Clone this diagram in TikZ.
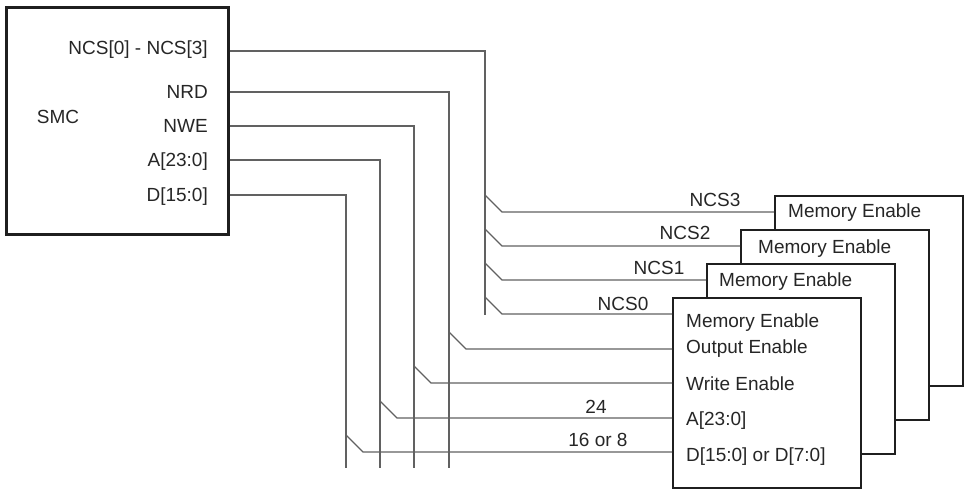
\documentclass[tikz,border=0pt]{standalone}
\usepackage{fontspec}
\setmainfont{Liberation Sans}
\begin{document}
\begin{tikzpicture}[x=1pt,y=-1pt,
  sig/.style={draw=black!62, line width=1.3pt},
  membox/.style={draw=black!88, line width=2.4pt, fill=white, minimum width=188pt, minimum height=190pt, anchor=north west, inner sep=0pt},
  lbl/.style={font=\fontsize{19}{22}\selectfont, text=black!85, inner sep=0pt},
]
\useasboundingbox (0,0) rectangle (970,492);

% SMC block
\node[draw=black!88, line width=2.6pt, minimum width=222pt, minimum height=227pt, anchor=north west, inner sep=0pt] (smc) at (5,6) {};
\node[lbl, anchor=base] (smclbl) at (58,124) {SMC};
\node[lbl, anchor=base east] (pncs) at (208,55) {NCS[0] - NCS[3]};
\node[lbl, anchor=base east] (pnrd) at (208,99) {NRD};
\node[lbl, anchor=base east] (pnwe) at (208,133) {NWE};
\node[lbl, anchor=base east] (pa) at (208,167) {A[23:0]};
\node[lbl, anchor=base east] (pd) at (208,202) {D[15:0]};

% memory blocks (back to front)
\node[membox] (mem4) at (774,195) {};
\node[membox] (mem3) at (740,229) {};
\node[membox] (mem2) at (706,263) {};
\node[membox] (mem1) at (672,297) {};

\node[lbl, anchor=base west] (m4me) at (788,218) {Memory Enable};
\node[lbl, anchor=base west] (m3me) at (758,253) {Memory Enable};
\node[lbl, anchor=base west] (m2me) at (719,286) {Memory Enable};
\node[lbl, anchor=base west] (m1me) at (686,327) {Memory Enable};
\node[lbl, anchor=base west] (m1oe) at (686,353) {Output Enable};
\node[lbl, anchor=base west] (m1we) at (686,390) {Write Enable};
\node[lbl, anchor=base west] (m1a) at (686,425) {A[23:0]};
\node[lbl, anchor=base west] (m1d) at (686,461) {D[15:0] or D[7:0]};

% bus corner coordinates
\coordinate (ncsTop) at (485,51);
\coordinate (ncsBot) at (485,315);
\coordinate (nrdTop) at (449,92);
\coordinate (nrdBot) at (449,468);
\coordinate (nweTop) at (414,126);
\coordinate (nweBot) at (414,468);
\coordinate (aTop) at (380,160);
\coordinate (aBot) at (380,468);
\coordinate (dTop) at (346,195);
\coordinate (dBot) at (346,468);

% trunks from SMC
\draw[sig] (smc.east |- ncsTop) -- (ncsTop) -- (ncsBot);
\draw[sig] (smc.east |- nrdTop) -- (nrdTop) -- (nrdBot);
\draw[sig] (smc.east |- nweTop) -- (nweTop) -- (nweBot);
\draw[sig] (smc.east |- aTop) -- (aTop) -- (aBot);
\draw[sig] (smc.east |- dTop) -- (dTop) -- (dBot);

% branches
\coordinate (b3) at (485,195);
\coordinate (b2) at (485,229);
\coordinate (b1) at (485,263);
\coordinate (b0) at (485,297);
\coordinate (bo) at (449,332);
\coordinate (bw) at (414,366);
\coordinate (ba) at (380,401);
\coordinate (bd) at (346,435);
\draw[sig] (b3) -- ++(17,17) -- (mem4.west |- 0,212);
\draw[sig] (b2) -- ++(17,17) -- (mem3.west |- 0,246);
\draw[sig] (b1) -- ++(17,17) -- (mem2.west |- 0,280);
\draw[sig] (b0) -- ++(17,17) -- (mem1.west |- 0,314);
\draw[sig] (bo) -- ++(17,17) -- (mem1.west |- 0,349);
\draw[sig] (bw) -- ++(17,17) -- (mem1.west |- 0,383);
\draw[sig] (ba) -- ++(17,17) -- (mem1.west |- 0,418);
\draw[sig] (bd) -- ++(17,17) -- (mem1.west |- 0,452);

% line labels
\node[lbl, anchor=base] (l3) at (715,207) {NCS3};
\node[lbl, anchor=base] (l2) at (685,240) {NCS2};
\node[lbl, anchor=base] (l1) at (659,274) {NCS1};
\node[lbl, anchor=base] (l0) at (623,310) {NCS0};
\node[lbl, anchor=base] (l24) at (596,413) {24};
\node[lbl, anchor=base] (l16) at (598,446) {16 or 8};
\end{tikzpicture}
\end{document}
